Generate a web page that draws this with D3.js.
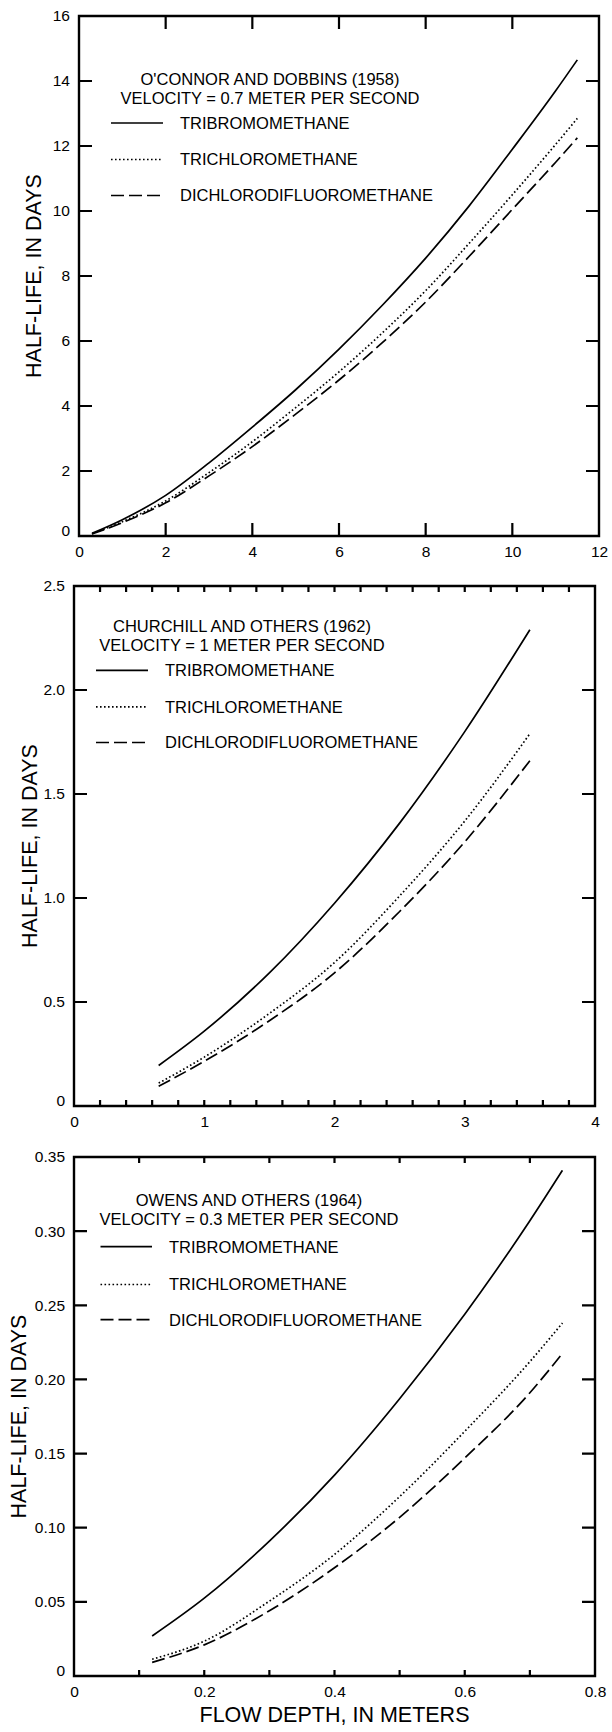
<!DOCTYPE html>
<head>
  <meta charset="utf-8" />
  <script src="https://cdn.jsdelivr.net/npm/d3@7"></script>
  <style>
    body { margin: 0; background: #fff; }
    text { font-family: "Liberation Sans", Arial, sans-serif; fill: #000; }
  </style>
</head>
<body>
  <svg class="chart" width="612" height="1732"></svg>
  <script>
    // chemical names in the legend, same order as the series below
    const compounds = ["TRIBROMOMETHANE", "TRICHLOROMETHANE", "DICHLORODIFLUOROMETHANE"];

    // panel 1: O'Connor and Dobbins
    const depth1 = [0.3, 1, 2, 3, 4, 5, 6, 7, 8, 9, 10, 11, 11.5];
    const tribromo1 = [0.08, 0.5, 1.25, 2.25, 3.35, 4.5, 5.75, 7.1, 8.55, 10.15, 11.9, 13.7, 14.65];
    const trichloro1 = [0.07, 0.44, 1.08, 1.95, 2.9, 3.95, 5.05, 6.25, 7.55, 9.0, 10.5, 12.05, 12.85];
    const dichloro1 = [0.06, 0.41, 1.02, 1.85, 2.75, 3.75, 4.8, 5.95, 7.2, 8.6, 10.05, 11.5, 12.25];
    const xTicks1 = [0, 2, 4, 6, 8, 10, 12];
    const yTicks1 = [0, 2, 4, 6, 8, 10, 12, 14, 16];

    // panel 2: Churchill and others
    const depth2 = [0.65, 1, 1.5, 2, 2.5, 3, 3.5];
    const tribromo2 = [0.195, 0.36, 0.64, 0.975, 1.36, 1.8, 2.29];
    const trichloro2 = [0.11, 0.235, 0.445, 0.69, 1.01, 1.37, 1.79];
    const dichloro2 = [0.095, 0.215, 0.41, 0.64, 0.935, 1.27, 1.66];
    const xTicks2 = [0, 1, 2, 3, 4];
    const xMinor2 = [0.2, 0.4, 0.6, 0.8, 1, 1.2, 1.4, 1.6, 1.8, 2, 2.2, 2.4, 2.6, 2.8, 3, 3.2, 3.4, 3.6, 3.8];
    const yTicks2 = [0, 0.5, 1.0, 1.5, 2.0, 2.5];

    // panel 3: Owens and others
    const depth3 = [0.12, 0.2, 0.3, 0.4, 0.5, 0.6, 0.7, 0.75];
    const tribromo3 = [0.027, 0.0525, 0.091, 0.1355, 0.187, 0.244, 0.307, 0.341];
    const trichloro3 = [0.0113, 0.0235, 0.0505, 0.082, 0.121, 0.165, 0.212, 0.238];
    const dichloro3 = [0.0092, 0.021, 0.044, 0.073, 0.107, 0.147, 0.191, 0.2175];
    const xTicks3 = [0, 0.2, 0.4, 0.6, 0.8];
    const xMinor3 = [0.1, 0.2, 0.3, 0.4, 0.5, 0.6, 0.7];
    const yTicks3 = [0, 0.05, 0.1, 0.15, 0.2, 0.25, 0.3, 0.35];

    const svg = d3.select(".chart");
    const dashes = [null, "1.6,2.4", "13,5"];

    const panels = [
      {
        box: { left: 79, right: 599, top: 16, bottom: 536 },
        xDomain: [0, 12], yDomain: [0, 16],
        depth: depth1, series: [tribromo1, trichloro1, dichloro1],
        xLabels: xTicks1, xFmt: d3.format("d"), xMarks: xTicks1.slice(1, -1), xMarkLen: 13,
        yLabels: yTicks1, yFmt: d3.format("d"),
        title: ["O'CONNOR AND DOBBINS (1958)", "VELOCITY = 0.7 METER PER SECOND"],
        titleX: 270, titleY: [85, 103.6],
        keyX: [111, 163, 180], keyY: [123, 159.5, 195.5],
        yTitleX: 33
      },
      {
        box: { left: 74, right: 595, top: 586, bottom: 1106 },
        xDomain: [0, 4], yDomain: [0, 2.5],
        depth: depth2, series: [tribromo2, trichloro2, dichloro2],
        xLabels: xTicks2, xFmt: d3.format("d"), xMarks: xMinor2, xMarkLen: 6,
        yLabels: yTicks2, yFmt: (d) => (d === 0 ? "0" : d3.format(".1f")(d)),
        title: ["CHURCHILL AND OTHERS (1962)", "VELOCITY = 1 METER PER SECOND"],
        titleX: 242, titleY: [631.7, 651.3],
        keyX: [96, 148, 165], keyY: [670.4, 706.8, 742.5],
        yTitleX: 29.3
      },
      {
        box: { left: 74, right: 595, top: 1157, bottom: 1676 },
        xDomain: [0, 0.8], yDomain: [0, 0.35],
        depth: depth3, series: [tribromo3, trichloro3, dichloro3],
        xLabels: xTicks3, xFmt: (d) => (d === 0 ? "0" : d3.format(".1f")(d)), xMarks: xMinor3, xMarkLen: 6,
        yLabels: yTicks3, yFmt: (d) => (d === 0 ? "0" : d3.format(".2f")(d)),
        title: ["OWENS AND OTHERS (1964)", "VELOCITY = 0.3 METER PER SECOND"],
        titleX: 249, titleY: [1205.8, 1224.5],
        keyX: [100.5, 152, 169], keyY: [1246.7, 1284.5, 1319.6],
        yTitleX: 18.4
      }
    ];

    const styleLabels = (sel) => {
      sel.select(".domain").remove();
      sel.selectAll("text").attr("font-size", "15.5px").attr("font-family", null).attr("fill", "#000");
    };

    panels.forEach((p) => {
      const b = p.box;
      const x = d3.scaleLinear().domain(p.xDomain).range([b.left, b.right]);
      const y = d3.scaleLinear().domain(p.yDomain).range([b.bottom, b.top]);
      const g = svg.append("g");
      const yMarks = p.yLabels.slice(1, -1);

      // frame as a closed path
      const framePath = d3.path();
      framePath.rect(b.left, b.top, b.right - b.left, b.bottom - b.top);
      g.append("path")
        .attr("d", framePath.toString())
        .attr("fill", "none")
        .style("stroke", "black")
        .style("stroke-width", "2.4px");

      // inward tick marks on all four sides, one path
      const tickPath = d3.path();
      p.xMarks.forEach((v) => {
        tickPath.moveTo(x(v), b.bottom);
        tickPath.lineTo(x(v), b.bottom - p.xMarkLen);
        tickPath.moveTo(x(v), b.top);
        tickPath.lineTo(x(v), b.top + p.xMarkLen);
      });
      yMarks.forEach((v) => {
        tickPath.moveTo(b.left, y(v));
        tickPath.lineTo(b.left + 13, y(v));
        tickPath.moveTo(b.right, y(v));
        tickPath.lineTo(b.right - 13, y(v));
      });
      g.append("path")
        .attr("d", tickPath.toString())
        .attr("fill", "none")
        .style("stroke", "black")
        .style("stroke-width", "2.2px");

      // tick labels
      g.append("g").attr("transform", `translate(0,${b.bottom})`)
        .call(d3.axisBottom(x).tickValues(p.xLabels).tickSize(0).tickPadding(10).tickFormat(p.xFmt))
        .call(styleLabels);
      const yl = g.append("g").attr("transform", `translate(${b.left},0)`)
        .call(d3.axisLeft(y).tickValues(p.yLabels).tickSize(0).tickPadding(9).tickFormat(p.yFmt))
        .call(styleLabels);
      yl.selectAll(".tick").filter((d) => d === 0).select("text").attr("y", -5);

      // curves
      const line = d3.line().x((d) => x(d[0])).y((d) => y(d[1])).curve(d3.curveMonotoneX);
      p.series.forEach((s, i) => {
        g.append("path")
          .datum(p.depth.map((d, j) => [d, s[j]]))
          .attr("d", line)
          .attr("fill", "none")
          .attr("stroke", "#000")
          .attr("stroke-width", 1.7)
          .attr("stroke-dasharray", dashes[i]);
      });

      // legend header
      g.selectAll(".head").data(p.title).enter().append("text")
        .attr("x", p.titleX).attr("y", (d, i) => p.titleY[i])
        .attr("text-anchor", "middle").attr("font-size", "16.5px")
        .text((d) => d);

      // legend keys
      compounds.forEach((c, i) => {
        g.append("line")
          .attr("x1", p.keyX[0]).attr("x2", p.keyX[1])
          .attr("y1", p.keyY[i]).attr("y2", p.keyY[i])
          .attr("stroke", "#000").attr("stroke-width", 1.7)
          .attr("stroke-dasharray", dashes[i]);
        g.append("text")
          .attr("x", p.keyX[2]).attr("y", p.keyY[i]).attr("dy", "0.36em")
          .attr("font-size", "16.5px")
          .text(c);
      });

      // y axis title
      g.append("text")
        .attr("transform", `translate(${p.yTitleX},${(b.top + b.bottom) / 2}) rotate(-90)`)
        .attr("text-anchor", "middle").attr("dy", "0.36em")
        .attr("font-size", "21.5px")
        .text("HALF-LIFE, IN DAYS");
    });

    svg.append("text")
      .attr("x", (74 + 595) / 2).attr("y", 1722)
      .attr("text-anchor", "middle").attr("font-size", "21.5px")
      .text("FLOW DEPTH, IN METERS");
  </script>
</body>
